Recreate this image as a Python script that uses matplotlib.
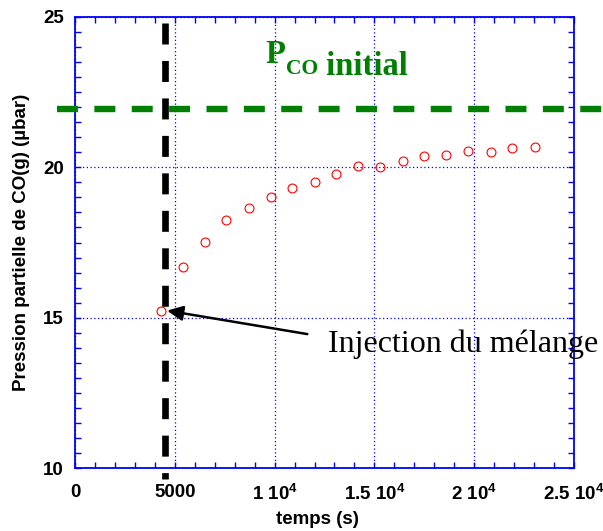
import matplotlib
matplotlib.use("Agg")
import matplotlib.pyplot as plt
from matplotlib.ticker import MultipleLocator, FixedLocator, FixedFormatter

plt.rcParams['font.family'] = ['Liberation Sans', 'DejaVu Sans']
plt.rcParams['mathtext.fontset'] = 'custom'
plt.rcParams['mathtext.rm'] = 'Liberation Sans:bold'
plt.rcParams['mathtext.it'] = 'Liberation Sans:bold'
plt.rcParams['mathtext.bf'] = 'Liberation Sans:bold'

# ---- data ----
temps = [4320, 5410, 6500, 7590, 8710, 9800, 10890, 12020, 13100,
         14190, 15290, 16420, 17500, 18590, 19710, 20840, 21910, 23030]
pression = [15.23, 16.70, 17.52, 18.25, 18.65, 19.02, 19.31, 19.50, 19.77,
            20.03, 20.00, 20.22, 20.37, 20.42, 20.55, 20.51, 20.64, 20.68]
p_co_initial = 21.94
t_injection = 4520

x_ticks = [0, 5000, 10000, 15000, 20000, 25000]
x_ticklabels = ["0", "5000", r"1 10$^{4}$", r"1.5 10$^{4}$", r"2 10$^{4}$", r"2.5 10$^{4}$"]
y_ticks = [10, 15, 20, 25]
y_ticklabels = ["10", "15", "20", "25"]

blue = '#0000ff'
green = '#008000'

fig = plt.figure(figsize=(6.03, 5.31), dpi=100)
ax = fig.add_axes([75/603, 1-468.4/531, 499/603, 451.7/531])

ax.set_xlim(0, 25000)
ax.set_ylim(10, 25)

# grid
ax.grid(True, which='major', color=blue, linestyle=(0, (1, 2)), linewidth=0.9)
ax.set_axisbelow(True)

# data points
ax.plot(temps, pression, linestyle='none', marker='o', markersize=6.4,
        markerfacecolor='none', markeredgecolor='#ff0000', markeredgewidth=0.8,
        zorder=5)

# horizontal green dashed line (initial P_CO)
ax.plot([-890, 26540], [p_co_initial, p_co_initial], color=green, linewidth=4.6,
        dashes=(3.28, 2.57), solid_capstyle='butt', clip_on=False, zorder=4)

# vertical black dashed line (injection)
ax.plot([t_injection, t_injection], [24.79, 9.65], color='black', linewidth=4.8,
        dashes=(3.15, 2.47), clip_on=False, zorder=4)

# ticks
ax.xaxis.set_major_locator(FixedLocator(x_ticks))
ax.xaxis.set_major_formatter(FixedFormatter(x_ticklabels))
ax.yaxis.set_major_locator(FixedLocator(y_ticks))
ax.yaxis.set_major_formatter(FixedFormatter(y_ticklabels))
ax.xaxis.set_minor_locator(MultipleLocator(1000))
ax.yaxis.set_minor_locator(MultipleLocator(0.5))
ax.tick_params(which='both', direction='in', color=blue, top=True, right=True,
               width=1.0)
ax.tick_params(which='major', length=4.5)
ax.tick_params(which='minor', length=4)
ax.tick_params(axis='x', which='major', pad=11, labelsize=13.5)
ax.tick_params(axis='y', which='major', pad=8, labelsize=13.5)
for lab in ax.get_xticklabels() + ax.get_yticklabels():
    lab.set_fontweight('bold')

for s in ax.spines.values():
    s.set_color(blue)
    s.set_linewidth(1.3)

ax.set_xlabel("temps (s)", fontsize=13.5, fontweight='bold')
ax.set_ylabel("Pression partielle de CO(g) (µbar)", fontsize=13.5, fontweight='bold')
ax.xaxis.set_label_coords(0.485, -0.094)
ax.yaxis.set_label_coords(-0.09, 0.5)

# P_CO initial label
p_txt = ax.text(9548, 23.46, "P", color=green, fontsize=23.5, fontweight='bold',
                family='Liberation Serif', ha='left', va='baseline')
co_txt = ax.annotate("CO", xy=(1, 0), xycoords=p_txt, xytext=(0.5, -2.7),
                     textcoords='offset points', color=green, fontsize=15.5,
                     fontweight='bold', family='Liberation Serif',
                     ha='left', va='baseline')
ax.annotate(" initial", xy=(1, 0), xycoords=co_txt, xytext=(0, 2.7),
            textcoords='offset points', color=green, fontsize=23.5,
            fontweight='bold', family='Liberation Serif',
            ha='left', va='baseline')

# injection annotation
ax.annotate("", xy=(4610, 15.24), xytext=(11640, 14.46),
            arrowprops=dict(arrowstyle='-|>,head_length=0.95,head_width=0.45',
                            color='black', lw=1.8, shrinkA=0, shrinkB=0),
            zorder=6)
ax.text(12660, 13.86, "Injection du mélange", fontsize=23, family='Liberation Serif',
        ha='left', va='baseline', color='black', clip_on=False)

fig.savefig("out.png", dpi=100)
